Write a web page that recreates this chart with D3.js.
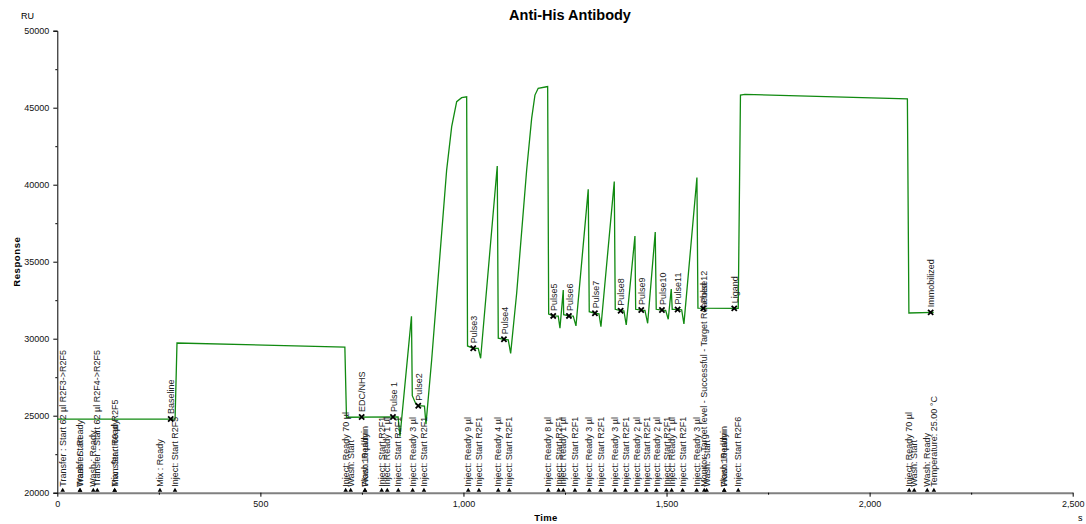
<!DOCTYPE html>
<html>
<head>
<meta charset="utf-8">
<script src="https://cdn.jsdelivr.net/npm/d3@7"></script>
<style>
  html, body { margin: 0; padding: 0; background: #fff; }
  svg { display: block; font-family: "Liberation Sans", Arial, sans-serif; }
</style>
</head>
<body>
<div id="chart"></div>
<script>
// sensorgram trace (time in s, response in RU)
const curveTime = [0, 290, 294.7, 708, 712, 839, 843.7, 872, 874, 883, 888.7, 904, 907.7, 921.7, 958.6, 971, 983.3, 995.6, 1007.9,
  1010, 1024, 1036.4, 1042.3, 1083.2, 1085.7, 1099.7, 1110.3, 1116.2, 1131, 1155.6, 1167.9, 1176, 1184, 1204.8, 1207.3,
  1209.8, 1221, 1233.4, 1237.6, 1245.7, 1246.7, 1259.7, 1270.3, 1277, 1307.2, 1309.7, 1323.7, 1333.6, 1338.5, 1371.3,
  1373.7, 1387, 1395, 1400.8, 1422.2, 1424, 1437.7, 1446.8, 1453.5, 1472.2, 1474.6, 1488.7, 1497.8, 1504.2, 1511.6,
  1514, 1527.3, 1537.2, 1542.8, 1574.8, 1577.3, 1676.5, 1682, 1693, 2093, 2096.7, 2157.7];
const curveRU = [24780, 24780, 29720, 29450, 24900, 24920, 23650, 31450, 26300, 25760, 25650, 25620, 24450, 28620, 40950, 43770, 45390, 45650, 45710,
  29530, 29380, 29370, 28730, 41210, 30030, 29960, 29920, 29050, 32950, 40950, 44310, 45820, 46260, 46360, 46370,
  31600, 31480, 31470, 30680, 33160, 31560, 31480, 31470, 30830, 39700, 31750, 31650, 31620, 30780, 40200,
  31910, 31820, 31810, 30890, 36670, 31910, 31860, 31840, 31000, 36930, 31910, 31860, 31840, 31260, 33230,
  31910, 31900, 31880, 30960, 40460, 31980, 31970, 45820, 45870, 45570, 31670, 31710];

// report points (X marks on the curve)
const markerNames = ["Baseline", "EDC/NHS", "Pulse 1", "Pulse2", "Pulse3", "Pulse4", "Pulse5", "Pulse6", "Pulse7", "Pulse8",
  "Pulse9", "Pulse10", "Pulse11", "Pulse12", "Ligand", "Immobilized"];
const markerTime = [279.2, 749.4, 826.4, 888.7, 1024, 1099.7, 1221, 1259.7, 1323.7, 1387, 1437.7, 1488.7, 1527.3, 1590.4, 1666.7, 2150.3];
const markerRU = [24780, 24920, 24920, 25650, 29380, 29960, 31480, 31480, 31650, 31820, 31860, 31860, 31900, 31970, 31970, 31710];

// event log (triangles on the time axis)
const eventTime = [13.3, 55.9, 55.9, 88.6, 98.5, 141.3, 141.3, 252.8, 289.8, 710, 722.3, 757.5, 757.5, 798.6, 812.4, 839.5,
  874.9, 902.8, 1011.8, 1038.1, 1085.7, 1112.7, 1208.8, 1234.4, 1245.7, 1274.5, 1309.7, 1337.8, 1373, 1399.3, 1425.8,
  1450.4, 1475, 1499.6, 1512.6, 1539.6, 1574.1, 1592.8, 1598.7, 1642, 1642, 1676.5, 2097.5, 2109.8, 2141.8, 2158.3];
const eventText = ["Transfer : Start 62 µl R2F3->R2F5", "Transfer : Ready", "Wash : Start", "Wash : Ready",
  "Transfer : Start 62 µl R2F4->R2F5", "Transfer : Ready", "Mix : Start 60 µl R2F5", "Mix : Ready", "Inject:  Start R2F5",
  "Inject:  Ready 70 µl", "Wash:  Start", "Wash:  Ready", "Flow:  10 µl/min", "Inject:  Start R2F1", "Inject:  Ready 1 µl",
  "Inject:  Start R2F1", "Inject:  Ready 3 µl", "Inject:  Start R2F1", "Inject:  Ready 9 µl", "Inject:  Start R2F1",
  "Inject:  Ready 4 µl", "Inject:  Start R2F1", "Inject:  Ready 8 µl", "Inject:  Start R2F1", "Inject:  Ready 1 µl",
  "Inject:  Start R2F1", "Inject:  Ready 3 µl", "Inject:  Start R2F1", "Inject:  Ready 3 µl", "Inject:  Start R2F1",
  "Inject:  Ready 2 µl", "Inject:  Start R2F1", "Inject:  Ready 2 µl", "Inject:  Start R2F1", "Inject:  Ready 1 µl",
  "Inject:  Start R2F1", "Inject:  Ready 3 µl", "Monitor:  Target level - Successful - Target Reached", "Wash:  Start",
  "Wash:  Ready", "Flow:  10 µl/min", "Inject:  Start R2F6", "Inject:  Ready 70 µl", "Wash:  Start", "Wash:  Ready",
  "Temperature:  25.00 °C"];

const xTicks = [0, 500, 1000, 1500, 2000, 2500];
const xMinor = [250, 750, 1250, 1750, 2250];
const yTicks = [20000, 25000, 30000, 35000, 40000, 45000, 50000];
const yMinor = [22500, 27500, 32500, 37500, 42500, 47500];

const W = 1086, H = 524;
const margin = { top: 30.7, right: 13.3, bottom: 31.3, left: 57.3 };
const width = W - margin.left - margin.right;
const height = H - margin.top - margin.bottom;

const svg = d3.select("#chart").append("svg").attr("width", W).attr("height", H);
const g = svg.append("g").attr("transform", `translate(${margin.left},${margin.top})`);

const x = d3.scaleLinear().domain([0, 2500]).range([0, width]);
const y = d3.scaleLinear().domain([20000, 50000]).range([height, 0]);

// title and axis captions
svg.append("text").attr("x", 570).attr("y", 20).attr("text-anchor", "middle")
  .attr("font-size", 14.5).attr("font-weight", "bold").text("Anti-His Antibody");
svg.append("text").attr("x", 21).attr("y", 19).attr("font-size", 9).text("RU");
svg.append("text").attr("transform", `translate(20,${margin.top + height / 2}) rotate(-90)`)
  .attr("text-anchor", "middle").attr("font-size", 9.5).attr("font-weight", "bold")
  .attr("letter-spacing", 0.6).text("Response");
svg.append("text").attr("x", 546).attr("y", 521).attr("text-anchor", "middle")
  .attr("font-size", 9.5).attr("font-weight", "bold").attr("letter-spacing", 0.4).text("Time");
svg.append("text").attr("x", 1078).attr("y", 521).attr("font-size", 9).text("s");

// left axis
const yAxis = g.append("g").call(d3.axisLeft(y).tickValues(yTicks).tickSize(4).tickFormat(d3.format("d")));
yAxis.selectAll("text").attr("font-size", 9).attr("font-family", "Liberation Sans, Arial, sans-serif").attr("fill", "#111").attr("dx", "-1");
yAxis.select(".domain").attr("stroke", "#000");
g.append("g").call(d3.axisLeft(y).tickValues(yMinor).tickSize(2).tickFormat(""))
  .select(".domain").remove();

// bottom axis
const xAxis = g.append("g").attr("transform", `translate(0,${height})`)
  .call(d3.axisBottom(x).tickValues(xTicks).tickSize(4).tickSizeOuter(0).tickPadding(4));
xAxis.selectAll("text").attr("font-size", 9).attr("font-family", "Liberation Sans, Arial, sans-serif").attr("fill", "#111");
xAxis.select(".domain").attr("stroke", "#808080").attr("stroke-width", 2);
g.append("g").attr("transform", `translate(0,${height})`)
  .call(d3.axisBottom(x).tickValues(xMinor).tickSize(2).tickFormat(""))
  .select(".domain").remove();

// sensorgram curve
const pts = curveTime.map((t, i) => [t, curveRU[i]]);
g.append("path").datum(pts)
  .attr("fill", "none").attr("stroke", "#118a11").attr("stroke-width", 1.3)
  .attr("d", d3.line().x(d => x(d[0])).y(d => y(d[1])));

// event triangles and labels
const events = eventTime.map((t, i) => ({ t: t, label: eventText[i] }));
const ev = g.append("g").selectAll("g").data(events).enter().append("g")
  .attr("transform", d => `translate(${x(d.t)},${height})`);
ev.append("path").attr("d", "M0,-5L2.3,-1L-2.3,-1Z").attr("fill", "#000");
ev.append("text").attr("transform", "translate(0,-6) rotate(-90)")
  .attr("dy", "0.35em").attr("font-size", 9).attr("fill", "#222").text(d => d.label);

// report point markers
const marks = markerTime.map((t, i) => ({ t: t, v: markerRU[i], name: markerNames[i] }));
const mk = g.append("g").selectAll("g").data(marks).enter().append("g")
  .attr("transform", d => `translate(${x(d.t)},${y(d.v)})`);
mk.append("path").attr("d", "M-2.6,-2.6L2.6,2.6M-2.6,2.6L2.6,-2.6")
  .attr("stroke", "#000").attr("stroke-width", 1.8);
mk.append("text").attr("transform", "translate(0.5,-5) rotate(-90)")
  .attr("dy", "0.35em").attr("font-size", 9).attr("fill", "#222").text(d => d.name);
</script>
</body>
</html>
